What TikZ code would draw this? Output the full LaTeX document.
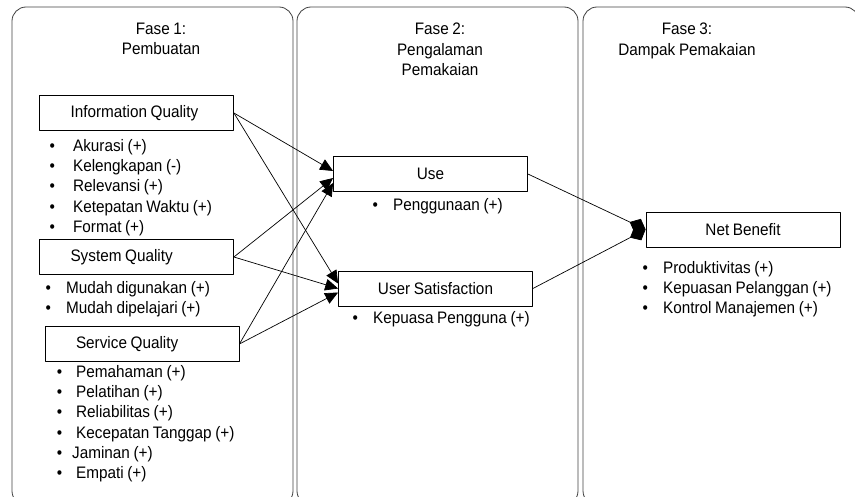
\documentclass[tikz,border=0pt]{standalone}
\usepackage{fontspec}
\setmainfont[FakeStretch=0.92,WordSpace=0.85]{Liberation Sans}
\usetikzlibrary{arrows.meta,calc}
\newcommand{\butir}[2][17.5pt]{\makebox[#1][l]{\textbullet}#2}

\begin{document}
\begin{tikzpicture}[x=0.3mm,y=-0.3mm,line join=round,
	font=\fontsize{14.2}{17.3}\selectfont,
	fase/.style={draw=black!75,line width=0.7pt,rounded corners=12pt},
	kotak/.style={draw,line width=0.7pt,minimum width=58.2mm,minimum height=10.5mm,inner sep=0pt},
	kotakkiri/.style={kotak,text width=39.6mm,inner xsep=9.3mm,align=flush left},
	daftar/.style={anchor=north west,inner sep=0pt,align=flush left},
	judul/.style={anchor=north,inner sep=0pt,align=center},
	panah/.style={line width=0.6pt,-{Triangle[length=11pt,width=10pt]}},
	wajik/.style={line width=0.6pt,-{Diamond[length=15pt,width=13pt]}}]
	\useasboundingbox (0,0) rectangle (855,497);
	\clip (0,0) rectangle (855,497);
	% tiga fase
	\draw[fase] (12,7) rectangle (293,505);
	\draw[fase] (297,7) rectangle (578,505);
	\draw[fase] (583,7) rectangle (859,505);
	\node[judul] (f1) at (161,23) {Fase 1:\\Pembuatan};
	\node[judul] (f2) at (440,23) {Fase 2:\\Pengalaman\\Pemakaian};
	\node[judul] (f3) at (687,23) {Fase 3:\\Dampak Pemakaian};
	% fase 1
	\node[kotakkiri] (iq) at (136.5,113) {Information Quality};
	\node[daftar] (iqd) at (49.4,139) {\butir[20pt]{Akurasi (+)}\\\butir[20pt]{Kelengkapan (-)}\\\butir[20pt]{Relevansi (+)}\\\butir[20pt]{Ketepatan Waktu (+)}\\\butir[20pt]{Format (+)}};
	\node[kotakkiri] (sq) at (136.5,257) {System Quality};
	\node[daftar] (sqd) at (45.4,281) {\butir{Mudah digunakan (+)}\\\butir{Mudah dipelajari (+)}};
	\node[kotakkiri] (svq) at (142,344) {Service Quality};
	\node[daftar] (svqd) at (56.7,365) {\butir[16.4pt]{Pemahaman (+)}\\\butir[16.4pt]{Pelatihan (+)}\\\butir[16.4pt]{Reliabilitas (+)}\\\butir[16.4pt]{Kecepatan Tanggap (+)}\\\butir[13pt]{Jaminan (+)}\\\butir[16.4pt]{Empati (+)}};
	% fase 2
	\node[kotak] (use) at (430.5,174) {Use};
	\node[daftar] (used) at (372.4,198) {\butir{Penggunaan (+)}};
	\node[kotak] (us) at (435.5,288.5) {User Satisfaction};
	\node[daftar] (usd) at (352.4,311) {\butir{Kepuasa Pengguna (+)}};
	% fase 3
	\node[kotak] (nb) at (743,229.5) {Net Benefit};
	\node[daftar] (nbd) at (642.4,261) {\butir{Produktivitas (+)}\\\butir{Kepuasan Pelanggan (+)}\\\butir{Kontrol Manajemen (+)}};
	% hubungan
	\draw[panah] (iq.east) -- ($(use.west)+(0,-3)$);
	\draw[panah] (iq.east) -- ($(us.west)+(0,-5)$);
	\draw[panah] (sq.east) -- ($(use.west)+(0,4)$);
	\draw[panah] (sq.east) -- (us.west);
	\draw[panah] (svq.east) -- ($(use.west)+(0,9)$);
	\draw[panah] (svq.east) -- ($(us.west)+(0,4)$);
	\draw[wajik] (use.east) -- (nb.west);
	\draw[wajik] (us.east) -- (nb.west);
\end{tikzpicture}
\end{document}
